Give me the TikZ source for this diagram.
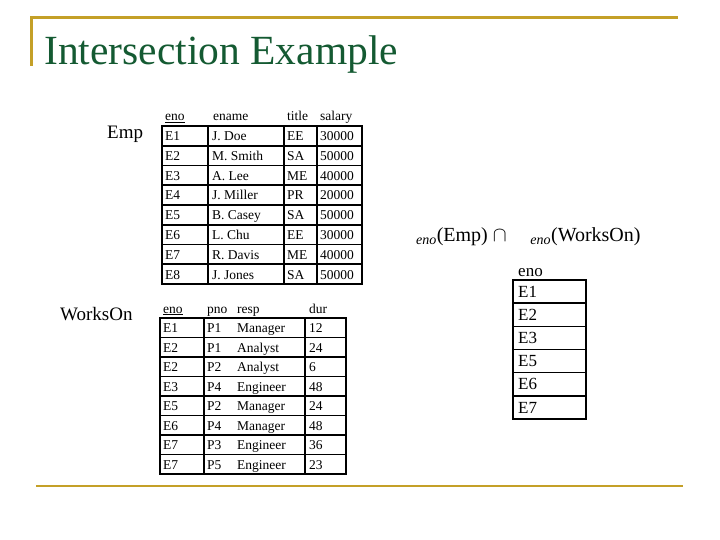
\documentclass[tikz,border=0pt]{standalone}
\usepackage{fontspec}
\setmainfont{Liberation Serif}
\usetikzlibrary{positioning}
\definecolor{gold}{RGB}{196,160,40}
\definecolor{titlegreen}{RGB}{20,90,50}
\tikzset{
    cell/.style={anchor=base west, inner sep=0pt, font=\fontsize{13.5}{13.5}\selectfont},
    head/.style={anchor=base west, inner sep=0pt, font=\fontsize{13.5}{13.5}\selectfont},
    grid/.style={line width=1.6pt},
}
\begin{document}
\begin{tikzpicture}[x=1pt, y=-1pt]
    \useasboundingbox (0,0) rectangle (720,540);
    % frame lines
    \draw[gold, line width=3pt] (30,18) -- (678,18);
    \draw[gold, line width=3pt] (31,17) -- (31,66);
    \draw[gold, line width=2.5pt] (36,486) -- (683,486);
    \node[anchor=base west, inner sep=0pt, text=titlegreen, font=\fontsize{41.5}{41.5}\selectfont] (title) at (44,65) {Intersection Example};
    %
    % Emp
    \node[anchor=base west, inner sep=0pt, font=\fontsize{19}{19}\selectfont] (emp) at (107,139) {Emp};
    \node[head] (eh1) at (165,121) {\underline{eno}};
    \node[head] (eh2) at (213,121) {ename};
    \node[head] (eh3) at (287,121) {title};
    \node[head] (eh4) at (320,121) {salary};
    \draw[grid] (162,126) rectangle (362,284);
    \foreach \x in {208,284,317} \draw[grid] (\x,126) -- (\x,284);
    \foreach \i in {1,...,7} \draw[grid] (162,126+\i*19.75) -- (362,126+\i*19.75);
    \foreach \e/\n/\t/\s [count=\i] in {E1/J. Doe/EE/30000, E2/M. Smith/SA/50000, E3/A. Lee/ME/40000, E4/J. Miller/PR/20000, E5/B. Casey/SA/50000, E6/L. Chu/EE/30000, E7/R. Davis/ME/40000, E8/J. Jones/SA/50000}{
        \node[cell] (emp\i a) at (165,121+\i*19.75) {\e};
        \node[cell] (emp\i b) at (212,121+\i*19.75) {\n};
        \node[cell] (emp\i c) at (287,121+\i*19.75) {\t};
        \node[cell] (emp\i d) at (320,121+\i*19.75) {\s};
    }
    %
    % WorksOn
    \node[anchor=base west, inner sep=0pt, font=\fontsize{19}{19}\selectfont] (works) at (60,320) {WorksOn};
    \node[head] (wh1) at (163,313) {\underline{eno}};
    \node[head] (wh2) at (207,313) {\underline{pno}};
    \node[head] (wh3) at (237,313) {resp};
    \node[head] (wh4) at (309,313) {dur};
    \draw[grid] (160,318) rectangle (346,474);
    \foreach \x in {204,305} \draw[grid] (\x,318) -- (\x,474);
    \foreach \i in {1,...,7} \draw[grid] (160,318+\i*19.5) -- (346,318+\i*19.5);
    \foreach \e/\p/\r/\d [count=\i] in {E1/P1/Manager/12, E2/P1/Analyst/24, E2/P2/Analyst/6, E3/P4/Engineer/48, E5/P2/Manager/24, E6/P4/Manager/48, E7/P3/Engineer/36, E7/P5/Engineer/23}{
        \node[cell] (wo\i a) at (163,313+\i*19.5) {\e};
        \node[cell] (wo\i b) at (207,313+\i*19.5) {\p};
        \node[cell] (wo\i c) at (237,313+\i*19.5) {\r};
        \node[cell] (wo\i d) at (309,313+\i*19.5) {\d};
    }
    %
    % result
    \node[font=\fontsize{20}{20}\selectfont, inner sep=0pt] (expr) at (519,237)
        {{\fontsize{24}{24}\selectfont$\mathbf{\Pi}$}$_{\mathit{eno}}$(Emp) $\cap$ {\fontsize{24}{24}\selectfont$\mathbf{\Pi}$}$_{\mathit{eno}}$(WorksOn)};
    \node[head, font=\fontsize{17}{17}\selectfont] (rh) at (518,276) {eno};
    \draw[grid] (513,280) rectangle (586,419);
    \foreach \i in {1,...,5} \draw[grid] (513,280+\i*23.17) -- (586,280+\i*23.17);
    \foreach \e [count=\i] in {E1,E2,E3,E5,E6,E7}
        \node[cell, font=\fontsize{17}{17}\selectfont] (res\i) at (518,274+\i*23.17) {\e};
\end{tikzpicture}
\end{document}
